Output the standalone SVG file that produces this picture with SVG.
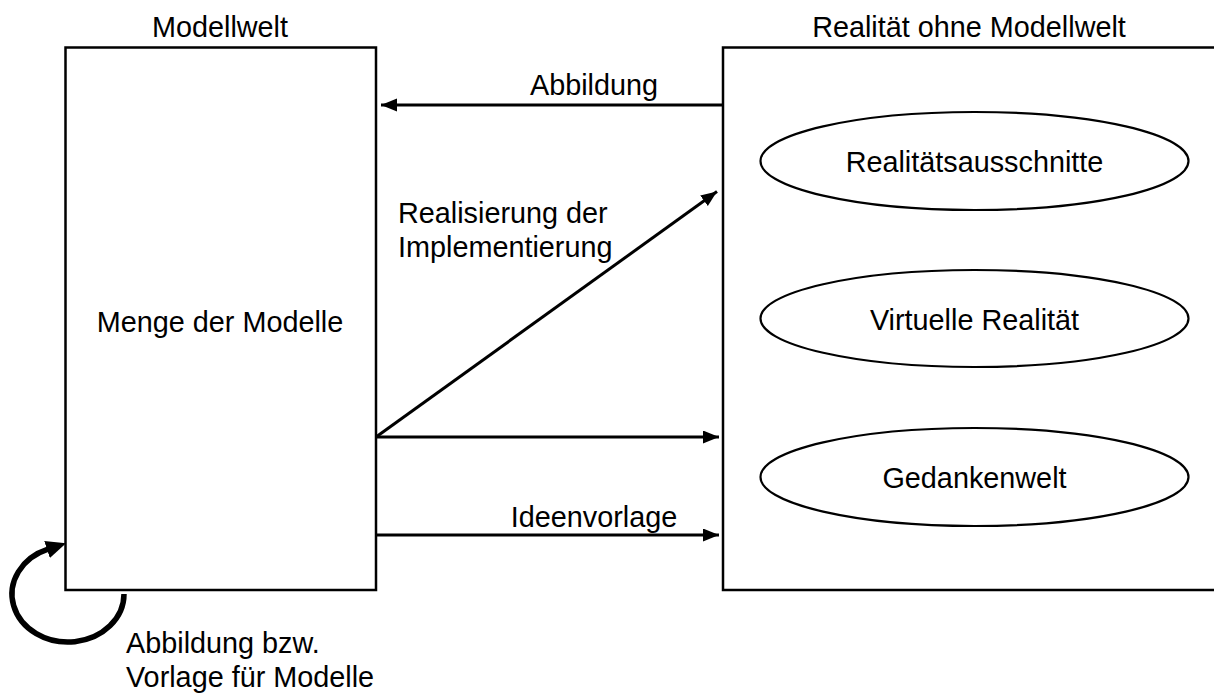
<svg xmlns="http://www.w3.org/2000/svg" width="1214" height="693" viewBox="0 0 1214 693">
  <style>
    text { font-family: "Liberation Sans", Arial, sans-serif; font-size: 28.8px; fill: #000; }
    .box { fill: none; stroke: #000; stroke-width: 2.5; }
    .oval { fill: none; stroke: #000; stroke-width: 2.2; }
    .edge { fill: none; stroke: #000; stroke-width: 3; }
    .loop { fill: none; stroke: #000; stroke-width: 5.5; }
    .mid { text-anchor: middle; }
  </style>
  <defs>
    <marker id="head" markerUnits="userSpaceOnUse" markerWidth="18" markerHeight="15" refX="16" refY="6.5" orient="auto">
      <path d="M0,0 L16,6.5 L0,13 z" fill="#000"/>
    </marker>
    <marker id="loophead" markerUnits="userSpaceOnUse" markerWidth="22" markerHeight="20" refX="1" refY="9" orient="auto">
      <path d="M0,0 L20,9 L0,18 z" fill="#000"/>
    </marker>
  </defs>

  <rect width="1214" height="693" fill="#fff"/>

  <!-- model world -->
  <g id="modellwelt">
    <rect class="box" x="65.5" y="47.5" width="310.5" height="542.5"/>
    <text class="mid" x="220" y="37">Modellwelt</text>
    <text class="mid" x="220" y="332">Menge der Modelle</text>
  </g>

  <!-- reality outside the model world -->
  <g id="realitaet">
    <path class="box" d="M1216,47.5 H723 V590 H1216"/>
    <text class="mid" x="969" y="37">Realität ohne Modellwelt</text>
  </g>

  <g id="ausschnitte">
    <ellipse class="oval" cx="974.5" cy="161" rx="214" ry="49"/>
    <text class="mid" x="974.5" y="171.5">Realitätsausschnitte</text>
  </g>

  <g id="virtuell">
    <ellipse class="oval" cx="974.5" cy="318.5" rx="214" ry="48.5"/>
    <text class="mid" x="974.5" y="329.5">Virtuelle Realität</text>
  </g>

  <g id="gedanken">
    <ellipse class="oval" cx="974.5" cy="477" rx="214" ry="49"/>
    <text class="mid" x="974.5" y="487.5">Gedankenwelt</text>
  </g>

  <!-- connectors -->
  <g id="connectors">
    <line class="edge" x1="723" y1="105" x2="381" y2="105" marker-end="url(#head)"/>
    <text class="mid" x="594" y="95">Abbildung</text>

    <line class="edge" x1="376" y1="437" x2="717" y2="191.5" marker-end="url(#head)"/>
    <text x="398" y="223">Realisierung der</text>
    <text x="398" y="257">Implementierung</text>

    <line class="edge" x1="376" y1="437" x2="719" y2="437" marker-end="url(#head)"/>

    <line class="edge" x1="376" y1="535" x2="719" y2="535" marker-end="url(#head)"/>
    <text class="mid" x="594" y="527">Ideenvorlage</text>

    <!-- self loop on the model world -->
    <path class="loop" d="M124,594 A56,48 0 1 1 48,549.2" marker-end="url(#loophead)"/>
    <text x="126" y="653">Abbildung bzw.</text>
    <text x="126" y="687">Vorlage für Modelle</text>
  </g>
</svg>
